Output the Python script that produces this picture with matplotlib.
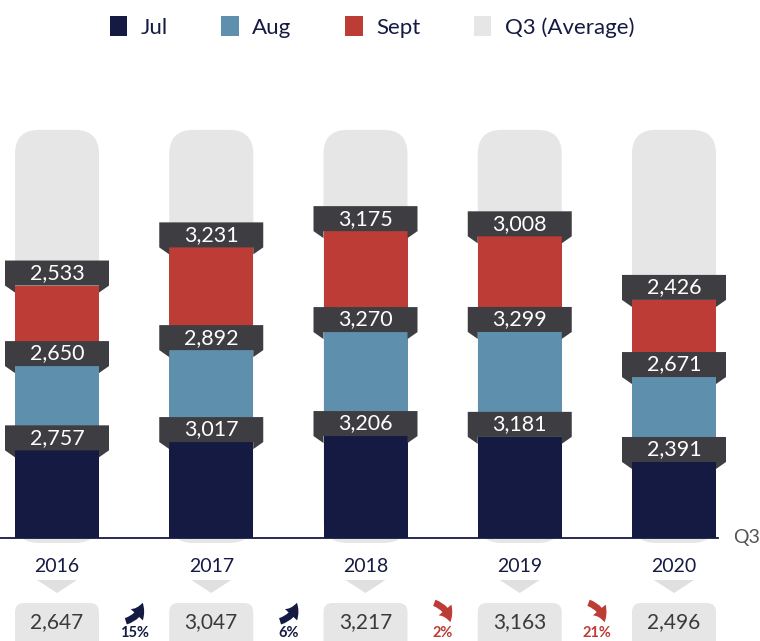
import matplotlib.pyplot as plt
import numpy as np
from matplotlib.patches import FancyBboxPatch, Polygon, Patch, FancyArrowPatch

# дані
years = ['2016', '2017', '2018', '2019', '2020']
jul = [2757, 3017, 3206, 3181, 2391]
aug = [2650, 2892, 3270, 3299, 2671]
sept = [2533, 3231, 3175, 3008, 2426]
q3_avg = [2647, 3047, 3217, 3163, 2496]

NAVY = '#151a42'
BLUE = '#5e8fad'
RED = '#bd3c36'
LIGHT = '#e6e6e6'
BOX = '#3e3e42'

plt.rcParams['font.family'] = ['Lato', 'DejaVu Sans']

# масштаб: пікселі -> одиниці даних
X_PX = 154.25   # пікселів на одну категорію
Y_U = 31.45     # одиниць даних на піксель


def dx(p):
    return p / X_PX


def dy(p):
    return p * Y_U


fig = plt.figure(figsize=(7.6, 6.41), dpi=100)
ax = fig.add_axes([0, 0, 1, 1])
ax.set_xlim(dx(-57), dx(760 - 57))
ax.set_ylim(dy(-(641 - 538)), dy(538))
ax.axis('off')

x = np.arange(len(years))
w = dx(84)
totals = np.array(jul) + np.array(aug) + np.array(sept)
track_top = totals.max() * 1.33

# сірі доріжки позаду стовпців
for xi in x:
    ax.add_patch(FancyBboxPatch((xi - w / 2, dy(-5)), w, track_top + dy(5),
                                boxstyle=f"round,pad=0,rounding_size={dx(24)}",
                                mutation_aspect=Y_U * X_PX,
                                fc=LIGHT, ec='none', zorder=1))

# складені стовпці
bottom = np.zeros(len(years))
tops = []
for vals, col in [(jul, NAVY), (aug, BLUE), (sept, RED)]:
    ax.bar(x, vals, width=w, bottom=bottom, color=col, zorder=3)
    bottom = bottom + np.array(vals)
    tops.append((vals, bottom.copy()))

# підписи у темних плашках
hb = dx(52)
hw = w / 2
for vals, top_arr in tops:
    for xi, v, t in zip(x, vals, top_arr):
        verts = [(xi - hb, t + dy(25)), (xi + hb, t + dy(25)), (xi + hb, t),
                 (xi + hw, t - dy(7)), (xi + hw, t), (xi - hw, t),
                 (xi - hw, t - dy(7)), (xi - hb, t)]
        ax.add_patch(Polygon(verts, closed=True, fc=BOX, ec='none', zorder=4))
        ax.text(xi, t + dy(12.5), f"{v:,}", color='white', fontsize=15.5,
                ha='center', va='center', zorder=5)

# базова лінія
ax.plot([dx(-57), dx(718 - 57)], [0, 0], color=NAVY, lw=1.3, zorder=6)
ax.text(dx(747 - 57), 0, 'Q3', color='#555555', fontsize=14,
        ha='center', va='center')

# роки, трикутники та середні значення
for xi, yr, avg in zip(x, years, q3_avg):
    ax.text(xi, dy(-29), yr, color=NAVY, fontsize=14, ha='center', va='center')
    ax.add_patch(Polygon([(xi - dx(20), dy(-42)), (xi + dx(20), dy(-42)),
                          (xi, dy(-55))], closed=True, fc='#e0e0e0', ec='none'))
    ax.add_patch(FancyBboxPatch((xi - w / 2, dy(-118)), w, dy(53),
                                boxstyle=f"round,pad=0,rounding_size={dx(9)}",
                                mutation_aspect=Y_U * X_PX,
                                fc=LIGHT, ec='none', zorder=2))
    ax.text(xi, dy(-84), f"{avg:,}", color='#3a3a3a', fontsize=15,
            ha='center', va='center', zorder=3)

# зміна між роками
for i in range(len(years) - 1):
    mid = x[i] + 0.5
    pct = round((q3_avg[i + 1] / q3_avg[i] - 1) * 100)
    col = NAVY if pct >= 0 else RED
    if pct >= 0:
        a, b, rad = (mid - dx(11), dy(-84)), (mid + dx(9), dy(-62)), 0.35
    else:
        a, b, rad = (mid - dx(11), dy(-64)), (mid + dx(8), dy(-87)), -0.35
    ax.add_patch(FancyArrowPatch(a, b, connectionstyle=f"arc3,rad={rad}",
                                 arrowstyle='simple,head_length=0.6,head_width=0.75,tail_width=0.3',
                                 mutation_scale=16, color=col, lw=0))
    ax.text(mid, dy(-95), f"{abs(pct)}%", color=col, fontsize=10.5,
            fontweight='bold', ha='center', va='center')

# легенда
handles = [Patch(fc=c, ec='none') for c in [NAVY, BLUE, RED, LIGHT]]
ax.legend(handles, ['Jul', 'Aug', 'Sept', 'Q3 (Average)'], loc='center',
          bbox_to_anchor=(372 / 760, 1 - 27 / 641), ncol=4, frameon=False,
          fontsize=16, handlelength=0.8, handleheight=1.0, handletextpad=0.6,
          columnspacing=2.4, labelcolor=NAVY)

fig.savefig('out.png', dpi=100)
